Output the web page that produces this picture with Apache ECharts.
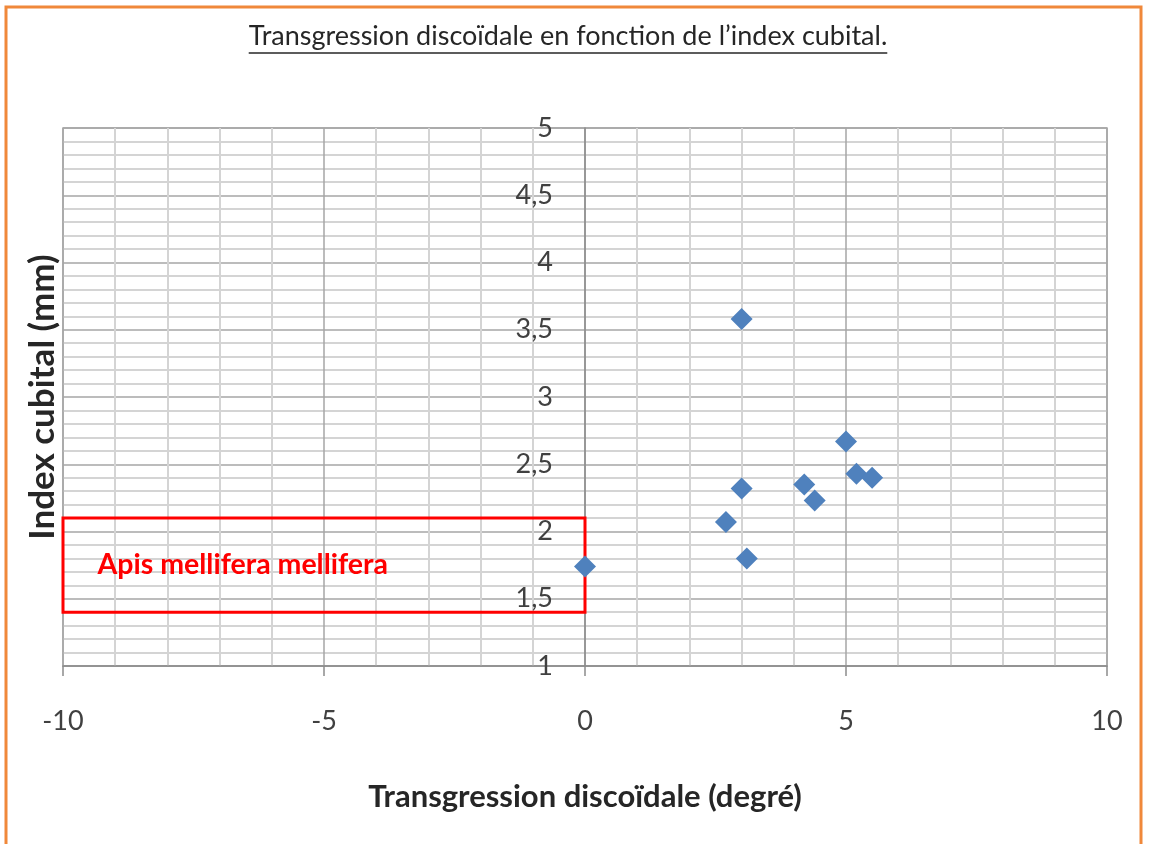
<!DOCTYPE html>
<html><head><meta charset="utf-8">
<script src="https://cdn.jsdelivr.net/npm/echarts@6/dist/echarts.min.js"></script>
<style>html,body{margin:0;padding:0;background:#fff}#c{width:1149px;height:844px}</style>
</head><body><div id="c"></div>
<script>
// ---- data ----
const titleText = 'Transgression discoïdale en fonction de l’index cubital.';
const xName = 'Transgression discoïdale (degré)';
const yName = 'Index cubital (mm)';
const boxLabel = 'Apis mellifera mellifera';
const transgression = [0, 2.7, 3.0, 3.0, 3.1, 4.2, 4.4, 5.0, 5.2, 5.5];
const indexCubital  = [1.74, 2.07, 3.58, 2.32, 1.80, 2.35, 2.23, 2.67, 2.43, 2.40];
const boxX = [-10.1, 0];
const boxY = [2.1, 1.4];

const FONT = 'Lato, "Open Sans", sans-serif';
const points = transgression.map((x, i) => [x, indexCubital[i]]);

const chart = echarts.init(document.getElementById('c'), null, {renderer: 'canvas'});

// measure title width for underline
const cv = document.createElement('canvas').getContext('2d');
const titleSize = 27;
cv.font = titleSize + 'px ' + FONT;
const tw = cv.measureText(titleText).width;
const titleCx = 568;

chart.setOption({
  backgroundColor: '#ffffff',
  animation: false,
  title: {
    text: titleText,
    left: titleCx - tw / 2,
    top: 23,
    padding: 0,
    textStyle: {fontFamily: FONT, fontSize: titleSize, fontWeight: 'normal', color: '#262626'}
  },
  graphic: [
    {type: 'line', shape: {x1: titleCx - tw / 2, y1: 53, x2: titleCx + tw / 2, y2: 53},
     style: {stroke: '#262626', lineWidth: 1.5}},
    {type: 'rect', shape: {x: 6, y: 7, width: 1135, height: 860},
     style: {fill: 'none', stroke: '#F0883A', lineWidth: 3}, silent: true}
  ],
  grid: {left: 63, right: 42, top: 128, bottom: 178, show: true, borderColor: '#a6a6a6', borderWidth: 1.5,
    containLabel: false, outerBoundsMode: 'none'},
  xAxis: {
    type: 'value', min: -10, max: 10, interval: 5,
    name: xName, nameLocation: 'middle', nameGap: 115,
    nameTextStyle: {fontFamily: FONT, fontSize: 31, fontWeight: 'bold', color: '#262626'},
    axisLine: {show: true, lineStyle: {color: '#8c8c8c', width: 1.5}},
    axisTick: {show: true, length: 10, lineStyle: {color: '#8c8c8c', width: 1.5}},
    axisLabel: {fontFamily: FONT, fontSize: 27, color: '#404040', margin: 42},
    splitLine: {show: true, lineStyle: {color: '#a6a6a6', width: 1.5}},
    minorTick: {show: false, splitNumber: 5},
    minorSplitLine: {show: true, lineStyle: {color: '#d4d4d4', width: 2}}
  },
  yAxis: {
    type: 'value', min: 1, max: 5, interval: 0.5,
    name: yName, nameLocation: 'middle', nameGap: 3, nameRotate: 90,
    nameTextStyle: {fontFamily: FONT, fontSize: 35, fontWeight: 'bold', color: '#262626'},
    axisLine: {show: true, onZero: true, lineStyle: {color: '#8c8c8c', width: 1.5}},
    axisTick: {show: false},
    axisLabel: {fontFamily: FONT, fontSize: 27, color: '#404040', margin: -490,
      formatter: v => String(v).replace('.', ',')},
    splitLine: {show: true, lineStyle: {color: '#a6a6a6', width: 1.5}},
    minorTick: {show: false, splitNumber: 5},
    minorSplitLine: {show: true, lineStyle: {color: '#d4d4d4', width: 2}}
  },
  series: [{
    type: 'scatter',
    data: points,
    symbol: 'diamond',
    symbolSize: 22,
    clip: false,
    z: 5,
    itemStyle: {color: '#4F81BD', opacity: 1},
    markArea: {
      silent: true,
      itemStyle: {color: 'rgba(0,0,0,0)', borderColor: '#FF0000', borderWidth: 3},
      label: {show: true, position: 'insideLeft', distance: 36,
        fontFamily: FONT, fontSize: 28.5, fontWeight: 'bold', color: '#FF0000'},
      data: [[
        {name: boxLabel, coord: [boxX[0], boxY[0]]},
        {coord: [boxX[1], boxY[1]]}
      ]]
    }
  }]
});
</script>
</body></html>
